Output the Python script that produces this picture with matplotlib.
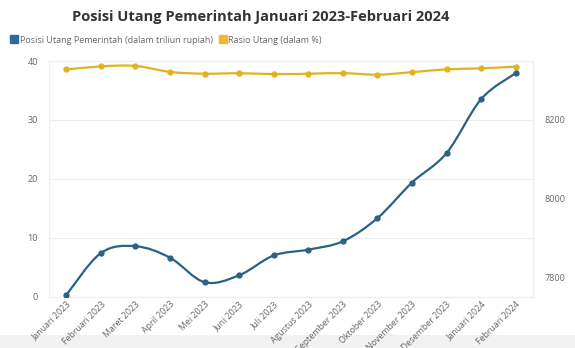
import numpy as np
import matplotlib
matplotlib.use("Agg")
import matplotlib.pyplot as plt
from matplotlib.path import Path
from matplotlib.patches import PathPatch, Rectangle
from matplotlib.lines import Line2D

plt.rcParams['font.family'] = ['Open Sans', 'DejaVu Sans']

# ------------------------
# DATA
# ------------------------
months = ["Januari 2023", "Februari 2023", "Maret 2023", "April 2023", "Mei 2023",
          "Juni 2023", "Juli 2023", "Agustus 2023", "September 2023", "Oktober 2023",
          "November 2023", "Desember 2023", "Januari 2024", "Februari 2024"]
utang = [7754.98, 7861.68, 7879.07, 7849.89, 7787.51, 7805.19, 7855.53,
         7870.35, 7891.61, 7950.52, 8041.01, 8116.0, 8253.09, 8319.22]
rasio = [38.56, 39.09, 39.17, 38.15, 37.85, 37.93, 37.78,
         37.84, 37.95, 37.68, 38.11, 38.59, 38.75, 39.06]

BLUE = "#2a6284"
YELLOW = "#e2b321"
GREY = "#666666"


def smooth_path(x, y):
    # catmull-rom style spline drawn as cubic bezier segments
    x = np.asarray(x, float)
    y = np.asarray(y, float)
    n = len(x)
    verts = [(x[0], y[0])]
    codes = [Path.MOVETO]
    t = 1 / 6
    for i in range(n - 1):
        p0 = max(i - 1, 0)
        p3 = min(i + 2, n - 1)
        c1 = (x[i] + (x[i + 1] - x[p0]) * t, y[i] + (y[i + 1] - y[p0]) * t)
        c2 = (x[i + 1] - (x[p3] - x[i]) * t, y[i + 1] - (y[p3] - y[i]) * t)
        verts += [c1, c2, (x[i + 1], y[i + 1])]
        codes += [Path.CURVE4] * 3
    return Path(verts, codes)


fig = plt.figure(figsize=(5.75, 3.48), dpi=100)
ax = fig.add_axes([0.0852, 0.1466, 0.8418, 0.6781])
ax2 = ax.twinx()

xs = np.arange(len(months))

# left axis: ratio
ax.add_patch(PathPatch(smooth_path(xs, rasio), fill=False, edgecolor=YELLOW, lw=1.6, zorder=3))
ax.plot(xs, rasio, ls="none", marker="o", ms=3.5, color=YELLOW, zorder=4)
ax.set_ylim(0, 40)
ax.set_yticks([0, 10, 20, 30, 40])
ax.set_xlim(-0.5, len(months) - 0.5)
ax.grid(axis="y", color="#eeeeee", lw=0.8)
ax.set_axisbelow(True)

# right axis: debt
ax2.add_patch(PathPatch(smooth_path(xs, utang), fill=False, edgecolor=BLUE, lw=1.6, zorder=3))
ax2.plot(xs, utang, ls="none", marker="o", ms=3.5, color=BLUE, zorder=4)
ax2.set_ylim(7750, 8350)
ax2.set_yticks([7800, 8000, 8200])

for a in (ax, ax2):
    for s in a.spines.values():
        s.set_color("#f0f0f0")
        s.set_linewidth(0.8)
    a.tick_params(length=0, labelsize=6.5, labelcolor=GREY)
ax.spines["bottom"].set_color("#e6e6e6")
ax.tick_params(axis="y", pad=8)
ax2.tick_params(axis="y", pad=8)

ax.set_xticks(xs)
ax.set_xticklabels(months, rotation=45, ha="right", rotation_mode="anchor", fontsize=6.3)
ax.tick_params(axis="x", pad=2)

fig.text(0.454, 0.95, "Posisi Utang Pemerintah Januari 2023-Februari 2024",
         ha="center", va="center", fontsize=10.5, fontweight="bold", color="#333333")

handles = [Line2D([], [], ls="none", marker="s", ms=6, color="#2f6a9c"),
           Line2D([], [], ls="none", marker="s", ms=6, color="#f0b82a")]
fig.legend(handles, ["Posisi Utang Pemerintah (dalam triliun rupiah)", "Rasio Utang (dalam %)"],
           loc="center left", bbox_to_anchor=(0.014, 0.885), ncol=2, frameon=False,
           fontsize=6.5, labelcolor=GREY, handlelength=0.6, handletextpad=0.3,
           columnspacing=0.8, borderaxespad=0)

# pale band along the bottom of the screenshot
fig.patches.append(Rectangle((0, 0), 1, 0.038, transform=fig.transFigure,
                             facecolor="#f2f2f2", edgecolor="none", zorder=-1))

fig.savefig("out.png", dpi=100)
